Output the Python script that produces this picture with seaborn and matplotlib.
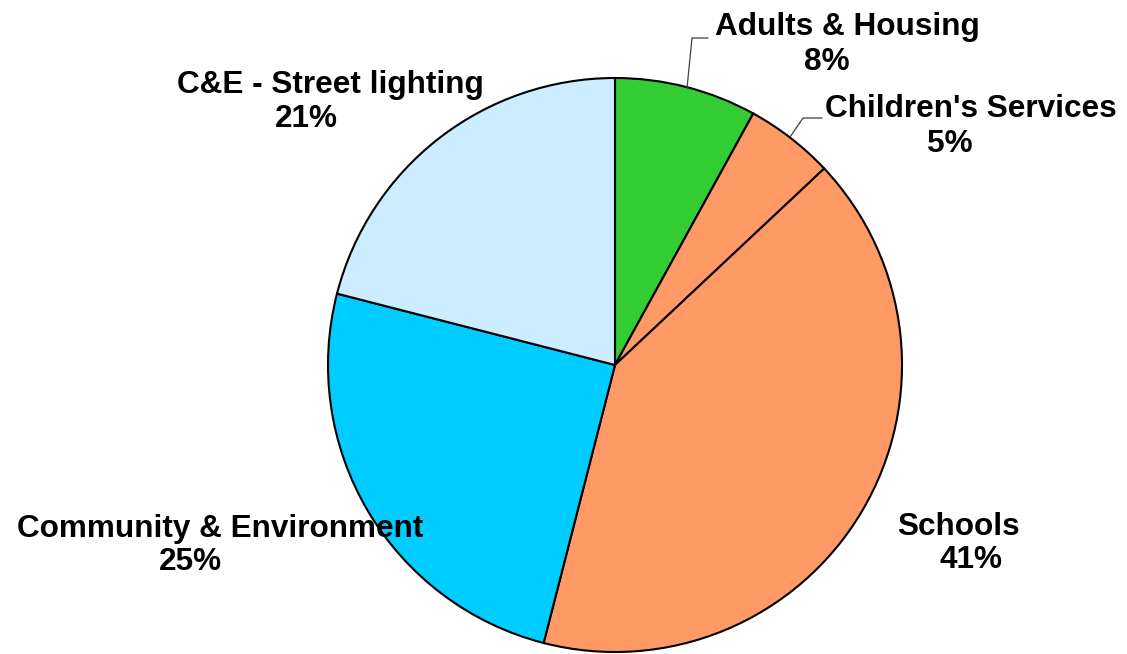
import matplotlib
matplotlib.use("Agg")
import matplotlib.pyplot as plt
import seaborn as sns

# Spending split by service area (percent), clockwise from 12 o'clock
categories = ["Adults & Housing", "Children's Services", "Schools",
              "Community & Environment", "C&E - Street lighting"]
shares = [8, 5, 41, 25, 21]
slice_colors = ["#33CC33", "#FF9966", "#FF9966", "#00CCFF", "#CCECFF"]

sns.set_theme(style="white")
plt.rcParams["font.family"] = ["Liberation Sans", "DejaVu Sans"]

W, H = 1127, 654
fig = plt.figure(figsize=(W / 100, H / 100), dpi=100)
fig.patch.set_facecolor("white")

# pie centre and radius in pixels
cx, cy, R = 615, 365, 287
ax = fig.add_axes([(cx - R) / W, (H - cy - R) / H, 2 * R / W, 2 * R / H])

ax.pie(shares, colors=slice_colors, startangle=90, counterclock=False,
       wedgeprops=dict(edgecolor="black", linewidth=1.5), radius=1.0)
ax.set_xlim(-1, 1)
ax.set_ylim(-1, 1)
ax.set_aspect("equal")
ax.axis("off")


def to_data(px, py):
    return (px - cx) / R, (cy - py) / R


# label name / percentage positions (centre x, baseline y in pixels)
label_pos = {
    "Adults & Housing": ((847, 35), (827, 70)),
    "Children's Services": ((971, 117), (950, 152)),
    "Schools": ((958, 535), (971, 568)),
    "Community & Environment": ((220, 537), (190, 570)),
    "C&E - Street lighting": ((330, 93), (306, 127)),
}

for name, share in zip(categories, shares):
    (nx, ny), (vx, vy) = label_pos[name]
    ax.text(*to_data(nx, ny), name, ha="center", va="baseline",
            fontsize=22.7, fontweight="bold", color="black", clip_on=False)
    ax.text(*to_data(vx, vy), f"{share}%", ha="center", va="baseline",
            fontsize=22.7, fontweight="bold", color="black", clip_on=False)

# leader lines for the two small slices
leaders = [
    [(687, 88), (692, 38), (708, 38)],
    [(790, 137), (803, 118), (822, 118)],
]
for pts in leaders:
    xs, ys = zip(*[to_data(px, py) for px, py in pts])
    ax.plot(xs, ys, color="#404040", linewidth=0.9, clip_on=False)

fig.savefig("out.png", dpi=100, facecolor="white")
